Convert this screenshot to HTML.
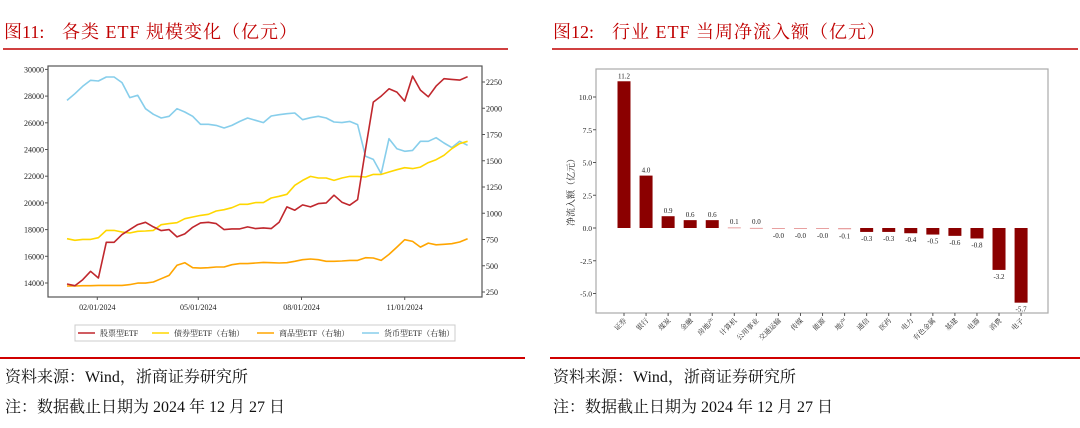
<!DOCTYPE html>
<html><head><meta charset="utf-8">
<style>
body{margin:0;width:1080px;height:428px;background:#fff;overflow:hidden;font-family:"Liberation Serif","Noto Serif CJK SC",serif;}
svg{position:absolute;left:0;top:0}
</style></head>
<body>
<svg width="1080" height="428">
<g font-size="18" fill="#c00000" font-family="Liberation Serif,Noto Serif CJK SC,serif">
<text x="4" y="38">图11:</text>
<text x="62" y="38" letter-spacing="1">各类 ETF 规模变化（亿元）</text>
<line x1="3" y1="49" x2="508" y2="49" stroke="#c00000" stroke-width="1.5"/>
</g>
<g font-size="18" fill="#c00000" font-family="Liberation Serif,Noto Serif CJK SC,serif">
<text x="553" y="38">图12:</text>
<text x="612" y="38" letter-spacing="1">行业 ETF 当周净流入额（亿元）</text>
<line x1="552" y1="49" x2="1078" y2="49" stroke="#c00000" stroke-width="1.5"/>
</g>
<line x1="0" y1="358" x2="525" y2="358" stroke="#d00000" stroke-width="2"/>
<line x1="550" y1="358" x2="1080" y2="358" stroke="#d00000" stroke-width="2"/>
<g font-size="16" fill="#111">
<text x="5" y="382">资料来源：Wind，浙商证券研究所</text>
<text x="5" y="412">注：数据截止日期为 2024 年 12 月 27 日</text>
<text x="553" y="382">资料来源：Wind，浙商证券研究所</text>
<text x="553" y="412">注：数据截止日期为 2024 年 12 月 27 日</text>
</g>
<g id="left"></g>
<g id="right"></g>
</svg>
<script>
const stockVals=[13925,13800,14250,14875,14375,17050,17050,17625,18000,18375,18550,18200,17925,18000,17450,17675,18175,18500,18550,18450,18000,18050,18050,18200,18075,18125,18075,18550,19700,19450,19850,19700,19950,20000,20575,20050,19825,20250,24000,27550,28000,28550,28300,27625,29500,28450,27950,28750,29300,29250,29200,29450];
const bondVals=[758,742,751,751,767,837,837,821,812,828,831,837,891,901,910,948,964,980,990,1021,1034,1053,1085,1085,1101,1101,1145,1161,1180,1266,1313,1351,1336,1336,1313,1336,1351,1351,1345,1370,1370,1393,1415,1434,1425,1440,1482,1510,1552,1615,1663,1685];
const commVals=[307,307,310,310,313,313,313,313,320,335,335,345,377,408,504,529,481,478,481,488,488,510,520,520,526,532,529,526,529,542,558,564,558,542,542,545,551,551,577,574,551,608,678,748,732,678,716,700,704,710,726,758];
const moneyVals=[2075,2139,2209,2266,2260,2298,2298,2244,2101,2123,1996,1942,1907,1923,1996,1964,1923,1847,1847,1837,1812,1837,1875,1907,1885,1863,1926,1939,1948,1955,1891,1910,1923,1907,1869,1863,1875,1844,1542,1513,1377,1710,1615,1590,1599,1685,1685,1720,1669,1625,1685,1647];
const leftTicks=[14000,16000,18000,20000,22000,24000,26000,28000,30000];
const rightTicks=[250,500,750,1000,1250,1500,1750,2000,2250];
const dateTicks=["02/01/2024","05/01/2024","08/01/2024","11/01/2024"];
const dateTickDays=[31,121,213,305];
const industries=["证券","银行","煤炭","金融","房地产","计算机","公用事业","交通运输","传媒","能源","地产","通信","医药","电力","有色金属","基建","电器","消费","电子"];
const flows=[11.2,4.0,0.9,0.6,0.6,0.05,0.01,-0.02,-0.03,-0.04,-0.1,-0.3,-0.3,-0.4,-0.5,-0.6,-0.8,-3.2,-5.7];
const flowTicks=[-5.0,-2.5,0.0,2.5,5.0,7.5,10.0];

const NS="http://www.w3.org/2000/svg";
function mk(p,tag,a,txt){const e=document.createElementNS(NS,tag);for(const k in a)e.setAttribute(k,a[k]);if(txt!==undefined)e.textContent=txt;p.appendChild(e);return e;}
const F="Liberation Serif,Noto Serif CJK SC,serif";
// LEFT
const L=document.getElementById('left');
const dayX=d=>67+(d-4)*1.122;
const yL=v=>283-(v-14000)/2000*26.7;
const yR=v=>292-(v-250)/250*26.25;
const frame=mk(L,'rect',{x:48,y:66,width:434,height:231,fill:'none',stroke:'#555','stroke-width':1.2});

leftTicks.forEach(t=>{const y=yL(t);mk(L,'line',{x1:45,x2:48,y1:y,y2:y,stroke:'#555'});const tx=mk(L,'text',{x:44,y:y+3,'font-size':8,'text-anchor':'end',fill:'#222','font-family':F},String(t));});
rightTicks.forEach(t=>{const y=yR(t);mk(L,'line',{x1:482,x2:485,y1:y,y2:y,stroke:'#555'});const tx=mk(L,'text',{x:486,y:y+3,'font-size':8,fill:'#222','font-family':F},String(t));});
dateTicks.forEach((t,i)=>{const x=dayX(dateTickDays[i]);mk(L,'line',{x1:x,x2:x,y1:297,y2:300,stroke:'#555'});const tx=mk(L,'text',{x:x,y:310,'font-size':8,'text-anchor':'middle',fill:'#222','font-family':F},t);});
function series(vals,yf,color,name){const pts=vals.map((v,i)=>dayX(4+7*i).toFixed(1)+','+yf(v).toFixed(1)).join(' ');const p=mk(L,'polyline',{points:pts,fill:'none',stroke:color,'stroke-width':1.6,'stroke-linejoin':'round'});}
series(moneyVals,yR,'#87ceeb','money-etf-line');
series(commVals,yR,'#ffa500','commodity-etf-line');
series(bondVals,yR,'#ffd700','bond-etf-line');
series(stockVals,yL,'#c0272d','stock-etf-line');
const lg=mk(L,'rect',{x:75,y:325,width:380,height:16,fill:'#fff',stroke:'#ccc'});

[["股票型ETF",'#c0272d',78],["债券型ETF（右轴）",'#ffd700',152],["商品型ETF（右轴）",'#ffa500',257],["货币型ETF（右轴）",'#87ceeb',362]].forEach(e=>{const g=mk(L,'g',{});mk(g,'line',{x1:e[2],x2:e[2]+17,y1:333,y2:333,stroke:e[1],'stroke-width':1.6});mk(g,'text',{x:e[2]+22,y:336,'font-size':8,fill:'#222','font-family':F},e[0]);});
// RIGHT
const R=document.getElementById('right');
const yF=v=>228-v*13.1;
const cx=i=>624+i*22.06;
const rf=mk(R,'rect',{x:596,y:69,width:452,height:244,fill:'none',stroke:'#aaa','stroke-width':1.2});

flowTicks.forEach(t=>{const y=yF(t);mk(R,'line',{x1:593,x2:596,y1:y,y2:y,stroke:'#555'});const tx=mk(R,'text',{x:592,y:y+3,'font-size':7.5,'text-anchor':'end',fill:'#222','font-family':F},t.toFixed(1));});
const yt=mk(R,'text',{x:0,y:0,'font-size':9,'text-anchor':'middle',fill:'#222','font-family':F,transform:'translate(574,190) rotate(-90)'},'净流入额（亿元）');

flows.forEach((v,i)=>{const x=cx(i);const y0=yF(0),y1=yF(v);const small=Math.abs(v)<0.15;
 const b=mk(R,'rect',{x:x-6.5,y:Math.min(y0,y1),width:13,height:Math.max(Math.abs(y1-y0),1),fill:small?'#e8a0a0':'#8b0000'});
 
 const ly=v>=0?Math.min(y1,y0-1)-3:Math.max(y1,y0+1)+9;
 const lt=mk(R,'text',{x:x,y:ly,'font-size':7,'text-anchor':'middle',fill:'#222','font-family':F},(v<0&&v>-0.05?'-':'')+v.toFixed(1).replace('-0.0','0.0'));
 
 mk(R,'line',{x1:x,x2:x,y1:313,y2:316,stroke:'#555'});
 const ct=mk(R,'text',{x:0,y:0,'font-size':7,'text-anchor':'end',fill:'#222','font-family':F,transform:`translate(${x+3},${321}) rotate(-45)`},industries[i]);
 
});
</script>
</body></html>
